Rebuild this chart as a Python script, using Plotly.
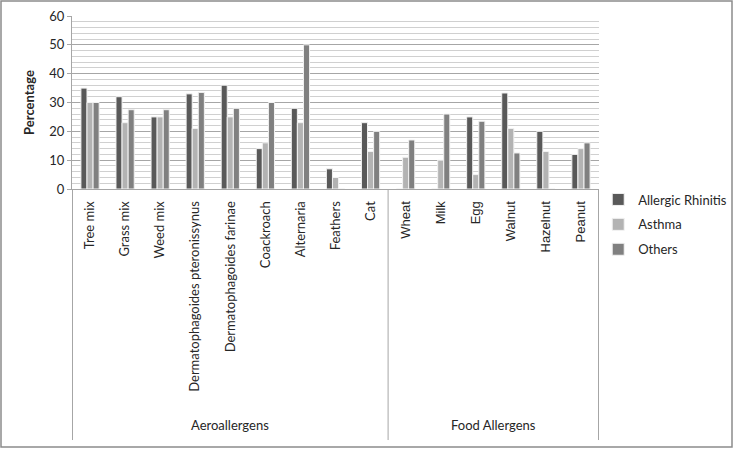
import plotly.graph_objects as go

categories = ["Tree mix", "Grass mix", "Weed mix", "Dermatophagoides pteronissynus",
              "Dermatophagoides farinae", "Coackroach", "Alternaria", "Feathers", "Cat",
              "Wheat", "Milk", "Egg", "Walnut", "Hazelnut", "Peanut"]
groups = ["Aeroallergens"] * 9 + ["Food Allergens"] * 6
allergic_rhinitis = [35, 32, 25, 33, 36, 14, 28, 7, 23, 0, 0, 25, 33.3, 20, 12]
asthma = [30, 23, 25, 21, 25, 16, 23, 4, 13, 11, 10, 5, 21, 13, 14]
others = [30, 27.5, 27.5, 33.5, 28, 30, 50, 0, 20, 17, 26, 23.5, 12.5, 0, 16]

series = [("Allergic Rhinitis", allergic_rhinitis, "#595959"),
          ("Asthma", asthma, "#b3b3b3"),
          ("Others", others, "#808080")]

FONT = "Lato, Open Sans, sans-serif"
TXT = "#262626"

fig = go.Figure()
for i, (name, vals, col) in enumerate(series):
    fig.add_trace(go.Bar(x=categories, y=vals, name=name, legendgroup=name,
                         marker=dict(color=col, line=dict(color="#f2f2f2", width=1))))

ticktext = []
for c, g in zip(categories, groups):
    if g == "Food Allergens":
        ticktext.append('<span style="font-family:Liberation Sans">%s</span>' % c)
    else:
        ticktext.append(c)

fig.update_layout(
    width=734, height=449,
    margin=dict(l=72, r=135, t=16, b=260, autoexpand=False),
    paper_bgcolor="white", plot_bgcolor="white",
    font=dict(family=FONT, size=13, color=TXT),
    barmode="group", bargap=0.48, bargroupgap=0.0,
    showlegend=True,
    legend=dict(xref="container", yref="container", x=0.815, xanchor="left",
                y=0.50, yanchor="middle",
                font=dict(size=13, color=TXT), tracegroupgap=5,
                itemwidth=30, bgcolor="rgba(0,0,0,0)"),
)

fig.update_xaxes(
    type="category", tickvals=categories, ticktext=ticktext, tickangle=-90,
    showline=True, linecolor="#a6a6a6", linewidth=1, automargin=False,
    ticks="", ticklabelstandoff=6, showgrid=False,
    tickfont=dict(size=13, color=TXT),
)
fig.update_yaxes(
    range=[0, 60], dtick=10, showline=True, linecolor="#a6a6a6", linewidth=1,
    ticks="outside", ticklen=4, tickcolor="#a6a6a6", automargin=False,
    showgrid=True, gridcolor="#a6a6a6", gridwidth=1,
    minor=dict(dtick=2, showgrid=True, gridcolor="#d0d0d0", gridwidth=1),
    zeroline=False, tickfont=dict(size=13, color=TXT),
    title=dict(text="<b>Percentage</b>", font=dict(size=13, color=TXT), standoff=11),
)

# group labels and dividers
group_names = []
for g in groups:
    if g not in group_names:
        group_names.append(g)
for g in group_names:
    idx = [i for i, gg in enumerate(groups) if gg == g]
    center = (idx[0] + idx[-1]) / 2
    fig.add_annotation(x=center, xref="x", y=-1.364, yref="paper", text=g,
                       showarrow=False, font=dict(size=13, color=TXT),
                       yanchor="middle")
bounds = [-0.5] + [i + 0.5 for i in range(len(groups) - 1) if groups[i] != groups[i + 1]] + [len(groups) - 0.5]
for b in bounds:
    fig.add_shape(type="line", x0=b, x1=b, xref="x", y0=0, y1=-1.451, yref="paper",
                  line=dict(color="#a6a6a6", width=1))

# outer chart border
fig.add_shape(type="rect", xref="paper", yref="paper",
              x0=(1 - 72) / 527, x1=(732 - 72) / 527,
              y0=(189 - 447) / 173, y1=(189 - 1) / 173,
              line=dict(color="#8c8c8c", width=1.5), fillcolor="rgba(0,0,0,0)")

fig.write_html("out.html", config={"displayModeBar": False},
               post_script="document.body.style.margin='0';")
